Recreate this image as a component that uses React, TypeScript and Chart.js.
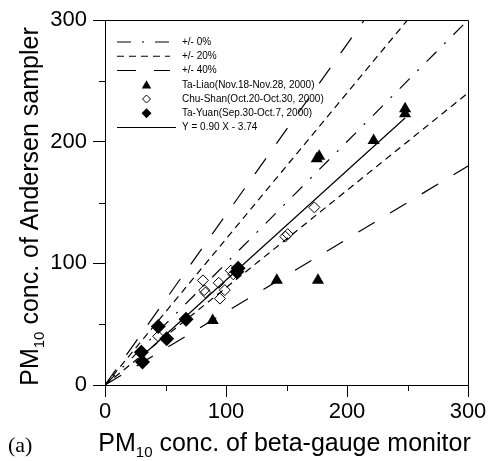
import React, { useEffect, useRef } from 'react';
import { Chart, registerables } from 'chart.js';
Chart.register(...registerables);

// ---- data ----
const taLiaoX = [89, 142, 176, 175, 177, 222, 248, 248];
const taLiaoY = [53, 86, 86, 186, 188, 201, 223, 227];
const chuShanX = [44, 81, 82, 83, 94, 95, 99, 104, 106, 149, 151, 173];
const chuShanY = [40, 86, 78, 76, 84, 71, 78, 94, 91, 122, 124, 146];
const taYuanX = [30, 31, 44, 51, 67, 110, 109];
const taYuanY = [27, 19, 48, 38, 54, 96, 93];
const fitSlope = 0.9;
const fitIntercept = -3.74;
const refZero = [1.0];
const refTwenty = [1.2, 0.8];
const refForty = [1.4, 0.6];
const majorTicks = [0, 100, 200, 300];
const minorTicks = [50, 150, 250];
const axisMin = 0;
const axisMax = 300;
const legendLabels = [
  '+/- 0%',
  '+/- 20%',
  '+/- 40%',
  'Ta-Liao(Nov.18-Nov.28, 2000)',
  'Chu-Shan(Oct.20-Oct.30, 2000)',
  'Ta-Yuan(Sep.30-Oct.7, 2000)',
  'Y = 0.90 X - 3.74',
];
const xTitleMain = ' conc. of beta-gauge monitor';
const yTitleMain = ' conc. of Andersen sampler';
const titlePrefix = 'PM';
const titleSub = '10';
const panelTag = '(a)';

// ---- styles ----
const FONT = '"Liberation Sans", Arial, sans-serif';
const DASH_ZERO = [14, 11, 2, 11];
const DASH_TWENTY = [7, 5];
const DASH_FORTY = [19, 18];

const pts = (xs: number[], ys: number[]) => xs.map((x, i) => ({ x, y: ys[i] }));
const refLine = (r: number) => [{ x: axisMin, y: axisMin * r }, { x: axisMax, y: axisMax * r }];

function drawMarker(ctx: CanvasRenderingContext2D, kind: string, x: number, y: number, r: number) {
  ctx.beginPath();
  if (kind === 'triangle') {
    for (let k = 0; k < 3; k++) {
      const a = (k * 2 * Math.PI) / 3;
      const px = x + Math.sin(a) * r;
      const py = y - Math.cos(a) * r;
      if (k === 0) ctx.moveTo(px, py); else ctx.lineTo(px, py);
    }
  } else {
    ctx.moveTo(x, y - r);
    ctx.lineTo(x + r, y);
    ctx.lineTo(x, y + r);
    ctx.lineTo(x - r, y);
  }
  ctx.closePath();
}

const decorPlugin = {
  id: 'decor',
  afterDraw(chart: any) {
    const { ctx, chartArea: ca, scales } = chart;
    const xs = scales.x;
    const ys = scales.y;
    ctx.save();
    // frame top/right
    ctx.strokeStyle = '#000';
    ctx.lineWidth = 1;
    ctx.setLineDash([]);
    ctx.beginPath();
    ctx.moveTo(ca.left, Math.round(ca.top) + 0.5);
    ctx.lineTo(Math.round(ca.right) + 0.5, Math.round(ca.top) + 0.5);
    ctx.lineTo(Math.round(ca.right) + 0.5, ca.bottom);
    ctx.stroke();
    // minor ticks
    ctx.beginPath();
    minorTicks.forEach((v) => {
      const px = Math.round(xs.getPixelForValue(v)) + 0.5;
      ctx.moveTo(px, ca.bottom);
      ctx.lineTo(px, ca.bottom + 6);
      const py = Math.round(ys.getPixelForValue(v)) + 0.5;
      ctx.moveTo(ca.left, py);
      ctx.lineTo(ca.left - 6, py);
    });
    ctx.stroke();

    // legend
    const lx0 = ca.left + 12;
    const lx1 = ca.left + 65;
    const tx = ca.left + 77;
    const rowY = (i: number) => ca.top + 22 + i * 14.25;
    ctx.font = '10px ' + FONT;
    ctx.fillStyle = '#000';
    ctx.textBaseline = 'middle';
    ctx.textAlign = 'left';
    const dashes = [DASH_ZERO, DASH_TWENTY, DASH_FORTY];
    for (let i = 0; i < 3; i++) {
      ctx.setLineDash(dashes[i]);
      ctx.lineWidth = 1.2;
      ctx.beginPath();
      ctx.moveTo(lx0, rowY(i));
      ctx.lineTo(lx1, rowY(i));
      ctx.stroke();
    }
    ctx.setLineDash([]);
    const mx = (lx0 + lx1) / 2 + 3;
    drawMarker(ctx, 'triangle', mx, rowY(3) + 1, 5.5);
    ctx.fill();
    drawMarker(ctx, 'diamond', mx, rowY(4), 4);
    ctx.lineWidth = 1;
    ctx.stroke();
    drawMarker(ctx, 'diamond', mx, rowY(5), 5);
    ctx.fill();
    ctx.lineWidth = 1.2;
    ctx.beginPath();
    ctx.moveTo(lx0, rowY(6));
    ctx.lineTo(lx1 + 6, rowY(6));
    ctx.stroke();
    legendLabels.forEach((t, i) => ctx.fillText(t, tx, rowY(i)));

    // axis titles
    const big = '25px ' + FONT;
    const small = '15px ' + FONT;
    const drawTitle = (main: string, x0: number, y0: number) => {
      ctx.font = big;
      const w1 = ctx.measureText(titlePrefix).width;
      const w3 = ctx.measureText(main).width;
      ctx.font = small;
      const w2 = ctx.measureText(titleSub).width;
      const W = w1 + w2 + w3;
      let x = x0 - W / 2;
      ctx.textBaseline = 'alphabetic';
      ctx.font = big;
      ctx.fillText(titlePrefix, x, y0);
      x += w1;
      ctx.font = small;
      ctx.fillText(titleSub, x, y0 + 6);
      x += w2;
      ctx.font = big;
      ctx.fillText(main, x, y0);
    };
    drawTitle(xTitleMain, (ca.left + ca.right) / 2 - 2, 451);
    ctx.save();
    ctx.translate(38, (ca.top + ca.bottom) / 2 + 4);
    ctx.rotate(-Math.PI / 2);
    drawTitle(yTitleMain, 0, 0);
    ctx.restore();

    ctx.font = '22px "Liberation Serif", "Times New Roman", serif';
    ctx.textBaseline = 'alphabetic';
    ctx.fillText(panelTag, 8, 452);
    ctx.restore();
  },
};

export default function App() {
  const ref = useRef<HTMLCanvasElement>(null);
  useEffect(() => {
    const canvas = ref.current!;
    const allX = [...taLiaoX, ...chuShanX, ...taYuanX];
    const fx0 = Math.min(...allX);
    const fx1 = Math.max(...allX);
    const lineDs = (data: any[], dash: number[], label: string) => ({
      label,
      data,
      showLine: true,
      pointRadius: 0,
      borderColor: '#000',
      borderWidth: 1.2,
      borderDash: dash,
      fill: false,
      order: 2,
    });
    const tickFont = { family: FONT, size: 22 };
    const chart = new Chart(canvas, {
      type: 'scatter',
      data: {
        datasets: [
          {
            label: legendLabels[3],
            data: pts(taLiaoX, taLiaoY),
            pointStyle: 'triangle',
            pointRadius: 7,
            backgroundColor: '#000',
            borderColor: '#000',
            borderWidth: 0,
            order: 0,
          },
          {
            label: legendLabels[5],
            data: pts(taYuanX, taYuanY),
            pointStyle: 'rectRot',
            pointRadius: 7.5,
            backgroundColor: '#000',
            borderColor: '#000',
            borderWidth: 0,
            order: 0,
          },
          {
            label: legendLabels[4],
            data: pts(chuShanX, chuShanY),
            pointStyle: 'rectRot',
            pointRadius: 5.5,
            backgroundColor: 'rgba(0,0,0,0)',
            borderColor: '#000',
            borderWidth: 1,
            order: 0,
          },
          {
            label: legendLabels[6],
            data: [
              { x: fx0, y: fitSlope * fx0 + fitIntercept },
              { x: fx1, y: fitSlope * fx1 + fitIntercept },
            ],
            showLine: true,
            pointRadius: 0,
            borderColor: '#000',
            borderWidth: 1.2,
            order: 1,
          },
          ...refZero.map((r) => lineDs(refLine(r), DASH_ZERO, legendLabels[0])),
          ...refTwenty.map((r) => lineDs(refLine(r), DASH_TWENTY, legendLabels[1])),
          ...refForty.map((r) => lineDs(refLine(r), DASH_FORTY, legendLabels[2])),
        ],
      },
      options: {
        animation: false,
        responsive: false,
        events: [],
        layout: { padding: { top: 20, right: 22, left: 0, bottom: 0 } },
        plugins: { legend: { display: false }, tooltip: { enabled: false } },
        scales: {
          x: {
            type: 'linear',
            min: axisMin,
            max: axisMax,
            afterBuildTicks: (s: any) => {
              s.ticks = majorTicks.map((v) => ({ value: v }));
            },
            afterFit: (s: any) => {
              s.height = 76;
            },
            ticks: { font: tickFont, color: '#000', padding: 2, maxRotation: 0 },
            grid: { drawOnChartArea: false, drawTicks: true, tickLength: 12, tickColor: '#000', color: '#000' },
            border: { display: true, color: '#000', width: 1 },
          },
          y: {
            type: 'linear',
            min: axisMin,
            max: axisMax,
            afterBuildTicks: (s: any) => {
              s.ticks = majorTicks.map((v) => ({ value: v }));
            },
            afterFit: (s: any) => {
              s.width = 105;
            },
            ticks: { font: tickFont, color: '#000', padding: 6 },
            grid: { drawOnChartArea: false, drawTicks: true, tickLength: 12, tickColor: '#000', color: '#000' },
            border: { display: true, color: '#000', width: 1 },
          },
        },
      },
      plugins: [decorPlugin],
    } as any);
    return () => chart.destroy();
  }, []);
  return (
    <div style={{ position: 'fixed', left: 0, top: 0, width: 490, height: 461, background: '#fff' }}>
      <canvas ref={ref} width={490} height={461} style={{ width: 490, height: 461, display: 'block' }} />
    </div>
  );
}
